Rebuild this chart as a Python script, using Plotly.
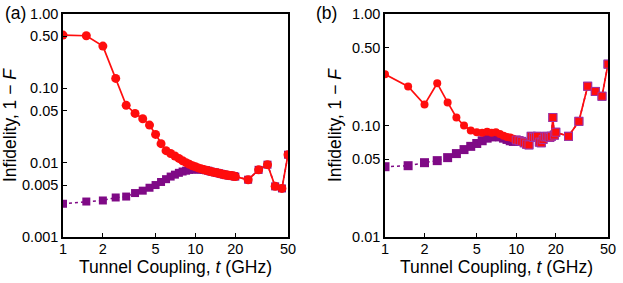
import plotly.graph_objects as go

# Tunnel coupling values (GHz)
t_vals = [1, 1.5, 2, 2.5, 3, 3.5, 4, 4.5, 5, 5.5, 6, 6.5, 7, 7.5, 8, 8.5, 9, 9.5,
          10, 10.5, 11, 11.5, 12, 12.5, 13, 13.5, 14, 14.5, 15, 15.5, 16, 16.5,
          17, 17.5, 18, 18.5, 19, 19.5, 20, 25, 30, 35, 40, 45, 50]

# Panel (a)
red_a = [0.52, 0.51, 0.37, 0.136, 0.059, 0.046, 0.039, 0.032, 0.024, 0.018,
         0.0145, 0.0133, 0.0123, 0.0114, 0.0106, 0.0100, 0.0095, 0.0091,
         0.0088, 0.0085, 0.0083, 0.0081, 0.0079, 0.0078, 0.0076, 0.0075,
         0.0074, 0.0073, 0.0072, 0.0071, 0.0070, 0.0069, 0.0068, 0.0068,
         0.0067, 0.0067, 0.0066, 0.0066, 0.0065, 0.0059, 0.0080, 0.0094,
         0.0048, 0.0045, 0.0128]
purple_a = [0.0028, 0.0030, 0.0031, 0.0034, 0.0035, 0.0039, 0.0042, 0.0046,
            0.0050, 0.0055, 0.0060, 0.0065, 0.0069, 0.0073, 0.0076, 0.0078,
            0.0080, 0.0081, 0.0081, 0.0081, 0.0081, 0.0080, 0.0079, 0.0078,
            0.0076, 0.0075, 0.0074, 0.0073, 0.0072, 0.0071, 0.0070, 0.0069,
            0.0068, 0.0068, 0.0067, 0.0067, 0.0066, 0.0066, 0.0065, 0.0059,
            0.0080, 0.0094, 0.0048, 0.0045, 0.0128]

# Panel (b)
red_b = [0.288, 0.224, 0.154, 0.239, 0.161, 0.118, 0.100, 0.090, 0.087, 0.086,
         0.088, 0.086, 0.087, 0.084, 0.081, 0.079, 0.078, 0.076, 0.074, 0.073,
         0.072, 0.070, 0.068, 0.067, 0.080, 0.078, 0.079, 0.080, 0.071, 0.070,
         0.075, 0.079, 0.080, 0.079, 0.078, 0.080, 0.118, 0.082, 0.087, 0.080,
         0.109, 0.225, 0.202, 0.183, 0.355]
purple_b = [0.0427, 0.0436, 0.0464, 0.0484, 0.0515, 0.056, 0.0608, 0.065, 0.069,
            0.073, 0.077, 0.079, 0.080, 0.079, 0.077, 0.075, 0.073, 0.072,
            0.074, 0.073, 0.072, 0.070, 0.068, 0.067, 0.080, 0.078, 0.079,
            0.080, 0.071, 0.070, 0.075, 0.079, 0.080, 0.079, 0.078, 0.080,
            0.118, 0.082, 0.087, 0.080, 0.109, 0.225, 0.202, 0.183, 0.355]

x_ticks = [1, 2, 5, 10, 20, 50]
x_tick_text = ["1", "2", "5", "10", "20", "50"]
y_ticks_a = [1.0, 0.5, 0.1, 0.05, 0.01, 0.005, 0.001]
y_tick_text_a = ["1.00", "0.50", "0.10", "0.05", "0.01", "0.005", "0.001"]
y_ticks_b = [1.0, 0.5, 0.1, 0.05, 0.01]
y_tick_text_b = ["1.00", "0.50", "0.10", "0.05", "0.01"]

RED = "#ff0d0d"
PURPLE = "#7f0a86"
FONT = "Liberation Sans, Arial, sans-serif"

fig = go.Figure()

# Panel (a)
fig.add_trace(go.Scatter(x=t_vals, y=purple_a, mode="lines+markers",
                         line=dict(color=PURPLE, width=1.5, dash="dot"),
                         marker=dict(symbol="square", size=8, color=PURPLE),
                         xaxis="x", yaxis="y", showlegend=False))
fig.add_trace(go.Scatter(x=t_vals, y=red_a, mode="lines+markers",
                         line=dict(color=RED, width=1.7),
                         marker=dict(symbol="circle", size=9, color=RED),
                         xaxis="x", yaxis="y", showlegend=False))

# Panel (b)
sym_b = ["circle" if t < 10 else "square" for t in t_vals]
fig.add_trace(go.Scatter(x=t_vals, y=purple_b, mode="lines+markers",
                         line=dict(color=PURPLE, width=1.5, dash="dot"),
                         marker=dict(symbol="square", size=9, color=PURPLE),
                         xaxis="x2", yaxis="y2", showlegend=False))
fig.add_trace(go.Scatter(x=t_vals, y=red_b, mode="lines+markers",
                         line=dict(color=RED, width=1.7),
                         marker=dict(symbol=sym_b, size=8, color=RED,
                                     line=dict(color="rgba(150,60,190,0.8)",
                                               width=[0 if t < 10 else 1 for t in t_vals])),
                         xaxis="x2", yaxis="y2", showlegend=False))

x_title = dict(text="Tunnel Coupling, <i>t</i> (GHz)", font=dict(size=17.5, color="black"),
               standoff=4)
y_title = dict(text="Infidelity, 1 \u2212 <i>F</i>", font=dict(size=17.5, color="black"),
               standoff=6)

common_x = dict(type="log", range=[0, 1.69897], tickvals=x_ticks, ticktext=x_tick_text,
                ticks="inside", ticklen=4, tickcolor="black", showline=True,
                linecolor="black", linewidth=1.5, mirror=True, showgrid=False,
                zeroline=False, tickfont=dict(size=14.5, color="black"), title=x_title,
                ticklabelstandoff=-2, automargin=False)
common_y = dict(type="log", ticks="inside", ticklen=4, tickcolor="black", showline=True,
                linecolor="black", linewidth=1.5, mirror=True, showgrid=False,
                zeroline=False, tickfont=dict(size=14.5, color="black"), title=y_title,
                ticklabelstandoff=0, automargin=False)

fig.update_layout(
    width=623, height=283,
    margin=dict(l=0, r=0, t=0, b=0, pad=0, autoexpand=False),
    paper_bgcolor="white", plot_bgcolor="white",
    font=dict(family=FONT, color="black"),
    xaxis=dict(domain=[63 / 623, 288 / 623], anchor="y", **common_x),
    yaxis=dict(domain=[(283 - 237) / 283, (283 - 14) / 283], anchor="x",
               range=[-3, 0], tickvals=y_ticks_a, ticktext=y_tick_text_a, **common_y),
    xaxis2=dict(domain=[385 / 623, 608 / 623], anchor="y2", **common_x),
    yaxis2=dict(domain=[(283 - 237) / 283, (283 - 14) / 283], anchor="x2",
                range=[-2, 0], tickvals=y_ticks_b, ticktext=y_tick_text_b, **common_y),
    annotations=[
        dict(text="(a)", x=3 / 623, y=1 - 13 / 283, xref="paper", yref="paper",
             xanchor="left", yanchor="middle", showarrow=False,
             font=dict(size=17.5, color="black")),
        dict(text="(b)", x=314 / 623, y=1 - 13 / 283, xref="paper", yref="paper",
             xanchor="left", yanchor="middle", showarrow=False,
             font=dict(size=17.5, color="black")),
    ],
)

fig.write_html("out.html",
               config={"displayModeBar": False},
               post_script="document.body.style.margin='0';document.body.style.overflow='hidden';")
